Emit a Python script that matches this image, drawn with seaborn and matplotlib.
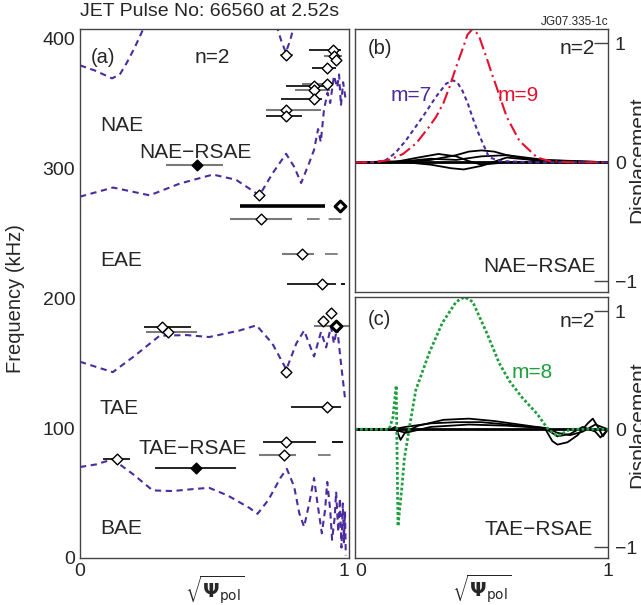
import matplotlib
matplotlib.use("Agg")
import matplotlib.pyplot as plt
import seaborn as sns

# ===== data =====
# panel (a): continuum curves, x = sqrt(psi_pol), f in kHz
bae_x = [0.0, 0.06, 0.122, 0.2, 0.27, 0.344, 0.42, 0.48, 0.55, 0.63, 0.66, 0.70, 0.746, 0.769,
         0.796, 0.815, 0.833, 0.852, 0.87, 0.881, 0.899, 0.911, 0.919, 0.93, 0.937, 0.947,
         0.952, 0.96, 0.966, 0.972, 0.977, 0.981, 0.985, 0.988]
bae_f = [70, 72, 76, 64, 52, 51.5, 53, 54, 48, 38.5, 34, 44.6, 62, 68.5,
         55, 34.5, 24, 42, 61.5, 44.6, 19, 37, 58.5, 37, 14, 31.5,
         51, 20, 46, 8, 42, 12, 36, 2]

tae_x = [0.0, 0.06, 0.122, 0.2, 0.296, 0.396, 0.48, 0.593, 0.656, 0.715, 0.767, 0.804,
         0.833, 0.87, 0.896, 0.915, 0.933, 0.944, 0.956, 0.97, 0.985]
tae_f = [151, 147, 143, 155, 171, 171.5, 170, 175, 179, 165, 145, 165,
         175, 155, 174, 162, 178, 165, 177, 150, 123]

nae_x = [0.0, 0.123, 0.259, 0.37, 0.494, 0.58, 0.667, 0.716, 0.766, 0.796, 0.822, 0.852,
         0.87, 0.885, 0.895, 0.907, 0.92, 0.93, 0.944, 0.956, 0.963, 0.97, 0.978, 0.988]
nae_f = [278, 285, 279, 288, 295, 291, 279, 296, 311, 301, 288.5, 304,
         314, 330, 320, 345, 358, 350, 371, 362, 372, 348, 366, 352]

top_x = [0.0, 0.056, 0.119, 0.148, 0.174, 0.204, 0.233, 0.26]
top_f = [379, 375, 369, 372, 381, 393, 406, 422]

vee_x = [0.73, 0.748, 0.765, 0.781, 0.796]
vee_f = [410, 398, 389, 398, 410]

# panel (a): measured modes with radial extent
mode_x = [0.766, 0.941, 0.944, 0.952, 0.919, 0.919, 0.870, 0.870, 0.870, 0.767, 0.767,
          0.436, 0.667, 0.965, 0.673, 0.826, 0.899, 0.932, 0.904, 0.951,
          0.305, 0.326, 0.766, 0.917, 0.765, 0.759, 0.43, 0.137]
mode_f = [387, 391, 386, 383, 377, 365, 363, 360, 353, 345, 340,
          302, 279, 271, 260.5, 234, 210.5, 188.7, 182.6, 178.5,
          178, 174, 143, 116, 89.5, 79, 69, 76]
bar_lo = [0.744, 0.852, 0.907, None, 0.863, 0.826, 0.767, 0.80, 0.748, 0.693, 0.693,
          0.32, None, 0.593, 0.556, 0.752, 0.77, None, None, 0.87,
          0.237, 0.244, None, 0.784, 0.679, 0.667, 0.278, 0.085]
bar_hi = [0.793, 0.97, 0.974, None, 0.952, 0.937, 0.933, 0.93, 0.90, 0.896, 0.826,
          0.53, None, 0.911, 0.789, 0.87, 0.952, None, None, 1.0,
          0.414, 0.434, None, 0.969, 0.877, 0.803, 0.58, 0.185]
bar_tone = ["gray", "black", "gray", "", "black", "gray", "black", "gray", "black", "gray", "black",
            "gray", "", "bold", "gray", "gray", "black", "", "", "gray",
            "black", "gray", "", "black", "black", "gray", "black", "black"]
mode_kind = ["open"] * 11 + ["filled", "open", "bold"] + ["open"] * 5 + ["bold"] + ["open"] * 6 + ["filled", "open"]

ext_f = [260.5, 234, 210.5, 89.5, 79]
ext_lo = [0.844, 0.911, 0.97, 0.938, 0.883]
ext_hi = [0.978, 0.985, 0.985, 0.978, 0.936]
ext_tone = ["gray", "gray", "black", "black", "gray"]

gap_labels = ["NAE", "NAE\u2212RSAE", "EAE", "TAE", "TAE\u2212RSAE", "BAE"]
gap_lab_x = [0.074, 0.22, 0.074, 0.074, 0.218, 0.074]
gap_lab_f = [333, 312, 229, 115, 84, 23]

# panel (b): NAE-RSAE eigenfunction
m9_x = [0.0, 0.08, 0.135, 0.19, 0.242, 0.29, 0.32, 0.35, 0.373, 0.395, 0.413, 0.43, 0.444, 0.464,
        0.48, 0.492, 0.505, 0.52, 0.54, 0.56, 0.6, 0.65, 0.72, 0.77, 0.85, 1.0]
m9_y = [0.0, 0.0, 0.02, 0.07, 0.16, 0.29, 0.38, 0.5, 0.63, 0.77, 0.88, 0.98, 1.07, 1.12,
        1.09, 1.05, 0.97, 0.88, 0.75, 0.63, 0.38, 0.18, 0.04, 0.01, 0.0, 0.0]
m7_x = [0.0, 0.08, 0.123, 0.16, 0.2, 0.267, 0.32, 0.36, 0.386, 0.405, 0.425, 0.445, 0.464,
        0.485, 0.505, 0.53, 0.58, 0.7, 1.0]
m7_y = [0.0, 0.0, 0.02, 0.08, 0.18, 0.38, 0.55, 0.66, 0.69, 0.67, 0.6, 0.5, 0.38,
        0.26, 0.16, 0.04, 0.01, 0.0, 0.0]
b_other_x = [
    [0.0, 0.2, 0.3, 0.4, 0.45, 0.5, 0.55, 0.6, 0.7, 0.8, 1.0],
    [0.0, 0.15, 0.25, 0.33, 0.4, 0.45, 0.5, 0.6, 1.0],
    [0.0, 0.2, 0.3, 0.38, 0.43, 0.5, 0.6, 0.7, 1.0],
    [0.0, 0.2, 0.3, 0.4, 0.5, 0.6, 0.75, 1.0],
]
b_other_y = [
    [0.0, 0.0, 0.02, 0.06, 0.09, 0.1, 0.09, 0.06, 0.02, 0.0, 0.0],
    [0.0, 0.0, 0.04, 0.07, 0.05, 0.01, -0.02, 0.0, 0.0],
    [0.0, 0.0, -0.02, -0.05, -0.06, -0.03, 0.04, 0.02, 0.0],
    [0.0, 0.01, 0.03, 0.02, 0.05, 0.06, 0.02, 0.0],
]

# panel (c): TAE-RSAE eigenfunction
m8_x = [0.0, 0.135, 0.15, 0.163, 0.17, 0.185, 0.195, 0.214, 0.24, 0.294, 0.345, 0.4, 0.433,
        0.465, 0.52, 0.57, 0.61, 0.66, 0.72, 0.76, 0.8, 0.85, 1.0]
m8_y = [0.0, 0.0, 0.1, 0.37, -0.82, -0.5, -0.25, 0.0, 0.33, 0.65, 0.9, 1.08, 1.12,
        1.08, 0.82, 0.56, 0.41, 0.27, 0.13, 0.01, -0.06, 0.0, 0.0]
c_other_x = [
    [0.0, 0.14, 0.16, 0.18, 0.2, 0.25, 0.35, 0.45, 0.55, 0.65, 0.75, 0.78, 0.8, 0.84, 0.88,
     0.92, 0.94, 0.96, 0.98, 1.0],
    [0.0, 0.15, 0.2, 0.3, 0.4, 0.5, 0.6, 0.7, 0.76, 0.8, 0.85, 0.9, 0.95, 1.0],
    [0.0, 0.15, 0.2, 0.3, 0.45, 0.6, 0.75, 0.8, 0.85, 0.9, 0.95, 0.97, 1.0],
]
c_other_y = [
    [0.0, 0.0, 0.02, -0.09, -0.02, 0.03, 0.08, 0.09, 0.07, 0.04, 0.01, -0.1, -0.13, -0.11, -0.05,
     0.05, 0.09, 0.02, -0.06, 0.0],
    [0.0, 0.0, 0.02, 0.05, 0.06, 0.06, 0.04, 0.02, 0.01, -0.03, -0.05, -0.02, 0.04, 0.0],
    [0.0, 0.0, -0.03, 0.02, 0.04, 0.03, 0.01, -0.06, -0.04, 0.02, -0.02, -0.07, 0.0],
]

# ===== style =====
sns.set_style("white")
plt.rcParams["font.family"] = ["Liberation Sans", "DejaVu Sans"]
plt.rcParams["mathtext.fontset"] = "dejavusans"

purple = "#4a2c9e"
red = "#e3102f"
green = "#1f9f3f"
grey = "#7a7a7a"
xlab = r"$\sqrt{\mathbf{\Psi}_{\mathrm{pol}}}$"

fig = plt.figure(figsize=(6.41, 6.05), dpi=100)
ax_a = fig.add_axes([0.1248, 0.0777, 0.4197, 0.8744])
ax_b = fig.add_axes([0.5538, 0.5174, 0.3947, 0.4346])
ax_c = fig.add_axes([0.5538, 0.0777, 0.3947, 0.4314])

for ax in (ax_a, ax_b, ax_c):
    for sp in ax.spines.values():
        sp.set_color("#444444")
        sp.set_linewidth(1.0)
    ax.tick_params(direction="in", length=10, width=1, labelsize=14, color="#444444")

# ---- panel (a) ----
dash = (0, (3, 2.2))
for cx, cy in [(bae_x, bae_f), (tae_x, tae_f), (nae_x, nae_f), (top_x, top_f), (vee_x, vee_f)]:
    sns.lineplot(x=cx, y=cy, ax=ax_a, color=purple, lw=1.5, linestyle=dash, sort=False, estimator=None)

for xx, ff, lo, hi, tone in zip(mode_x, mode_f, bar_lo, bar_hi, bar_tone):
    if lo is None:
        continue
    if tone == "bold":
        ax_a.hlines(ff, lo, hi, color="black", lw=2.6, zorder=2)
    elif tone == "gray":
        ax_a.hlines(ff, lo, hi, color=grey, lw=1.5, zorder=2)
    else:
        ax_a.hlines(ff, lo, hi, color="black", lw=1.2, zorder=2)
for ff, lo, hi, tone in zip(ext_f, ext_lo, ext_hi, ext_tone):
    ax_a.hlines(ff, lo, hi, color=grey if tone == "gray" else "black", lw=1.3,
                linestyles=(0, (7, 5)), zorder=2)

for kind, face, lw in [("open", "white", 1.0), ("filled", "black", 1.0), ("bold", "white", 2.2)]:
    xs = [x for x, k in zip(mode_x, mode_kind) if k == kind]
    fs = [f for f, k in zip(mode_f, mode_kind) if k == kind]
    sns.scatterplot(x=xs, y=fs, ax=ax_a, marker="D", s=30, facecolor=face,
                    edgecolor="black", linewidth=lw, zorder=3)

for lab, lx, lf in zip(gap_labels, gap_lab_x, gap_lab_f):
    ax_a.text(lx, lf, lab, fontsize=15, va="center", ha="left")
ax_a.text(0.04, 385, "(a)", fontsize=14.5, va="center")
ax_a.text(0.49, 385, "n=2", fontsize=15, va="center", ha="center")

ax_a.set_xlim(0, 1)
ax_a.set_ylim(0, 407)
ax_a.set_xticks([0, 0.5, 1])
ax_a.set_xticklabels(["0", "", "1"])
ax_a.get_xticklabels()[2].set_ha("right")
ax_a.set_yticks([0, 100, 200, 300, 400])
ax_a.set_ylabel("Frequency (kHz)", fontsize=14.5)
ax_a.yaxis.set_label_coords(-0.205, 0.49)
ax_a.set_xlabel(xlab, fontsize=14)
ax_a.xaxis.set_label_coords(0.5, -0.028)

# ---- panel (b) ----
for ox, oy in zip(b_other_x, b_other_y):
    sns.lineplot(x=ox, y=oy, ax=ax_b, color="black", lw=1.3, sort=False, estimator=None)
ax_b.axhline(0, color="black", lw=2)
sns.lineplot(x=m7_x, y=m7_y, ax=ax_b, color=purple, lw=1.5, linestyle=(0, (2, 1.6)),
             sort=False, estimator=None)
sns.lineplot(x=m9_x, y=m9_y, ax=ax_b, color=red, lw=1.5, linestyle=(0, (6, 2, 1, 2)),
             sort=False, estimator=None)
ax_b.text(0.05, 0.96, "(b)", fontsize=14.5, va="center")
ax_b.text(0.95, 0.96, "n=2", fontsize=15, va="center", ha="right")
ax_b.text(0.14, 0.56, "m=7", fontsize=15, va="center", color=purple)
ax_b.text(0.565, 0.56, "m=9", fontsize=15, va="center", color=red)
ax_b.text(0.95, -0.88, "NAE\u2212RSAE", fontsize=15, va="center", ha="right")

# ---- panel (c) ----
for ox, oy in zip(c_other_x, c_other_y):
    sns.lineplot(x=ox, y=oy, ax=ax_c, color="black", lw=1.3, sort=False, estimator=None)
ax_c.axhline(0, color="black", lw=2)
sns.lineplot(x=m8_x, y=m8_y, ax=ax_c, color=green, lw=2, linestyle=(0, (1, 0.8)),
             sort=False, estimator=None)
ax_c.text(0.05, 0.93, "(c)", fontsize=14.5, va="center")
ax_c.text(0.95, 0.91, "n=2", fontsize=15, va="center", ha="right")
ax_c.text(0.62, 0.48, "m=8", fontsize=15, va="center", color=green)
ax_c.text(0.94, -0.85, "TAE\u2212RSAE", fontsize=15, va="center", ha="right")

for ax in (ax_b, ax_c):
    ax.set_xlim(0, 1)
    ax.set_ylim(-1.09, 1.12)
    ax.yaxis.tick_right()
    ax.set_yticks([-1, 0, 1])
    ax.set_yticklabels(["\u22121", "0", "1"])
    ax.tick_params(axis="y", pad=5)
    ax.set_xticks([0, 0.5, 1])
    ax.set_ylabel("")
ax_b.set_xticklabels(["", "", ""])
ax_c.set_xticklabels(["0", "", "1"])
ax_c.get_xticklabels()[0].set_ha("left")
ax_c.set_xlabel(xlab, fontsize=14)
ax_c.xaxis.set_label_coords(0.5, -0.055)

fig.text(638 / 641, 1 - 160 / 605, "Displacement", rotation=90, ha="center", va="center", fontsize=15)
fig.text(638 / 641, 1 - 425 / 605, "Displacement", rotation=90, ha="center", va="center", fontsize=15)
fig.text(80 / 641, 1 - 12 / 605, "JET Pulse No: 66560 at 2.52s", fontsize=14, va="center", ha="left")
fig.text(608 / 641, 1 - 22 / 605, "JG07.335-1c", fontsize=8.5, va="center", ha="right")

plt.savefig("out.png", dpi=100)
plt.close()
